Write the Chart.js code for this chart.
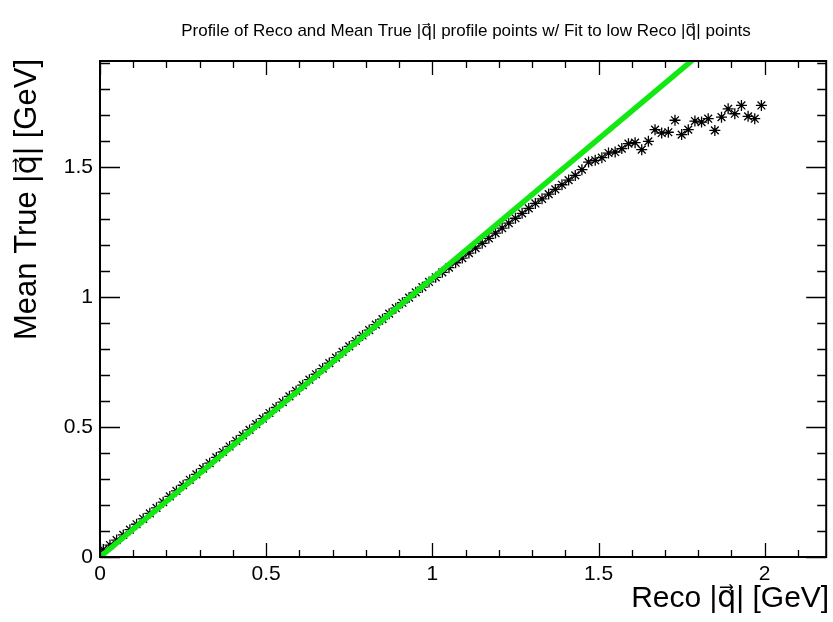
<!DOCTYPE html>
<html>
<head>
<meta charset="utf-8">
<script src="https://cdn.jsdelivr.net/npm/chart.js@4"></script>
<style>
html,body{margin:0;padding:0;background:#fff;}
#wrap{width:833px;height:622px;position:relative;}
</style>
</head>
<body>
<div id="wrap"><canvas id="c" width="833" height="622"></canvas></div>
<script>
// ---- data ----
const recoQ = [0.01,0.03,0.05,0.07,0.09,0.11,0.13,0.15,0.17,0.19,0.21,0.23,0.25,0.27,0.29,0.31,0.33,0.35,0.37,0.39,
0.41,0.43,0.45,0.47,0.49,0.51,0.53,0.55,0.57,0.59,0.61,0.63,0.65,0.67,0.69,0.71,0.73,0.75,0.77,0.79,
0.81,0.83,0.85,0.87,0.89,0.91,0.93,0.95,0.97,0.99,1.01,1.03,1.05,1.07,1.09,1.11,1.13,1.15,1.17,1.19,
1.21,1.23,1.25,1.27,1.29,1.31,1.33,1.35,1.37,1.39,1.41,1.43,1.45,1.47,1.49,1.51,1.53,1.55,1.57,1.59,
1.61,1.63,1.65,1.67,1.69,1.71,1.73,1.75,1.77,1.79,1.81,1.83,1.85,1.87,1.89,1.91,1.93,1.95,1.97,1.99];
const meanTrueQ = [0.029,0.046,0.065,0.085,0.105,0.126,0.147,0.168,0.189,0.211,0.233,0.254,0.276,0.297,0.318,0.340,0.361,0.383,0.404,0.425,
0.447,0.468,0.489,0.511,0.532,0.554,0.575,0.596,0.618,0.639,0.661,0.682,0.703,0.725,0.746,0.767,0.789,0.810,0.831,0.852,
0.873,0.894,0.915,0.936,0.957,0.978,0.998,1.018,1.038,1.058,1.076,1.095,1.113,1.132,1.150,1.169,1.188,1.207,1.226,1.246,
1.265,1.284,1.303,1.322,1.341,1.360,1.378,1.396,1.414,1.432,1.450,1.468,1.490,1.519,1.526,1.536,1.554,1.558,1.571,1.590,
1.594,1.567,1.599,1.644,1.631,1.634,1.680,1.625,1.644,1.677,1.673,1.686,1.641,1.692,1.724,1.705,1.737,1.695,1.686,1.737];
// fit line end points (read where the green line starts and leaves the frame)
const fitX = [0, 1.80];
const fitY = [0, 1.930];
const xTicks = [0, 0.5, 1, 1.5, 2];
const yTicks = [0, 0.5, 1, 1.5];
const xRange = [0, 2.185];
const yRange = [0, 1.908];
const titleText = 'Profile of Reco and Mean True |q\u20D7| profile points w/ Fit to low Reco |q\u20D7| points';
const xTitle = 'Reco |q\u20D7| [GeV]';
const yTitle = 'Mean True |q\u20D7| [GeV]';

const FONT = '"Liberation Sans", Arial, Helvetica, "DejaVu Sans", sans-serif';

const points = recoQ.map((x,i)=>({x:x, y:meanTrueQ[i]}));
const fitPts = fitX.map((x,i)=>({x:x, y:fitY[i]}));

const rootPlugin = {
  id:'rootStyle',
  afterDraw(chart){
    const ctx = chart.ctx, a = chart.chartArea;
    const xs = chart.scales.x, ys = chart.scales.y;
    ctx.save();
    ctx.strokeStyle = '#000';
    ctx.lineWidth = 1.3;
    for (let k=0;k<=21;k++){
      const v = k/10;
      if (v > xRange[1]) break;
      const px = Math.round(xs.getPixelForValue(v))+0.5;
      const major = (k%5===0);
      const len = major?14:7;
      ctx.beginPath();
      ctx.moveTo(px,a.bottom); ctx.lineTo(px,a.bottom-len);
      ctx.moveTo(px,a.top); ctx.lineTo(px,a.top+len);
      ctx.stroke();
    }
    for (let k=0;k<=19;k++){
      const v = k/10;
      if (v > yRange[1]) break;
      const py = Math.round(ys.getPixelForValue(v))+0.5;
      const major = (k%5===0);
      ctx.beginPath();
      ctx.moveTo(a.left,py); ctx.lineTo(a.left+(major?20:10),py);
      ctx.moveTo(a.right,py); ctx.lineTo(a.right-(major?20:9),py);
      ctx.stroke();
    }
    ctx.lineWidth = 2;
    ctx.strokeRect(a.left, a.top, a.right-a.left, a.bottom-a.top);
    ctx.fillStyle = '#000';
    ctx.font = '17px ' + FONT;
    ctx.textAlign = 'center';
    ctx.textBaseline = 'middle';
    ctx.fillText(titleText, 466, 31);
    ctx.font = '30px ' + FONT;
    ctx.textAlign = 'right';
    ctx.textBaseline = 'alphabetic';
    ctx.fillText(xTitle, a.right+3, 607);
    ctx.save();
    ctx.font = '31px ' + FONT;
    ctx.translate(36, a.top-2);
    ctx.rotate(-Math.PI/2);
    ctx.textAlign = 'right';
    ctx.fillText(yTitle, 0, 0);
    ctx.restore();
    ctx.restore();
  }
};

new Chart(document.getElementById('c'), {
  type:'scatter',
  data:{
    datasets:[
      {
        label:'fit', type:'line', data:fitPts,
        borderColor:'#12e812', borderWidth:5.5, pointRadius:0, fill:false, clip:0, tension:0
      },
      {
        label:'profile', data:points,
        pointStyle:'star', pointRadius:5.5, pointBorderWidth:1.3,
        borderColor:'#000', backgroundColor:'#000', showLine:false
      },
      {
        label:'profileDots', data:points,
        pointStyle:'circle', pointRadius:1.8, pointBorderWidth:0,
        borderColor:'#000', backgroundColor:'#000', showLine:false
      }
    ]
  },
  options:{
    responsive:false, animation:false,
    layout:{padding:{left:0,right:3,top:61,bottom:0}},
    plugins:{legend:{display:false}, tooltip:{enabled:false}, title:{display:false}},
    scales:{
      x:{
        type:'linear', min:xRange[0], max:xRange[1],
        grid:{display:false, drawTicks:false, tickLength:0}, border:{display:false},
        afterBuildTicks(s){ s.ticks = xTicks.map(v=>({value:v})); },
        afterFit(s){ s.height = 65; },
        ticks:{color:'#000', font:{family:FONT,size:21}, padding:5, maxRotation:0, autoSkip:false,
          callback:(v)=>String(v)}
      },
      y:{
        type:'linear', min:yRange[0], max:yRange[1],
        grid:{display:false, drawTicks:false, tickLength:0}, border:{display:false},
        afterBuildTicks(s){ s.ticks = yTicks.map(v=>({value:v})); },
        afterFit(s){ s.width = 100; },
        ticks:{color:'#000', font:{family:FONT,size:21}, padding:7, autoSkip:false,
          callback:(v)=>String(v)}
      }
    }
  },
  plugins:[rootPlugin]
});
</script>
</body>
</html>
